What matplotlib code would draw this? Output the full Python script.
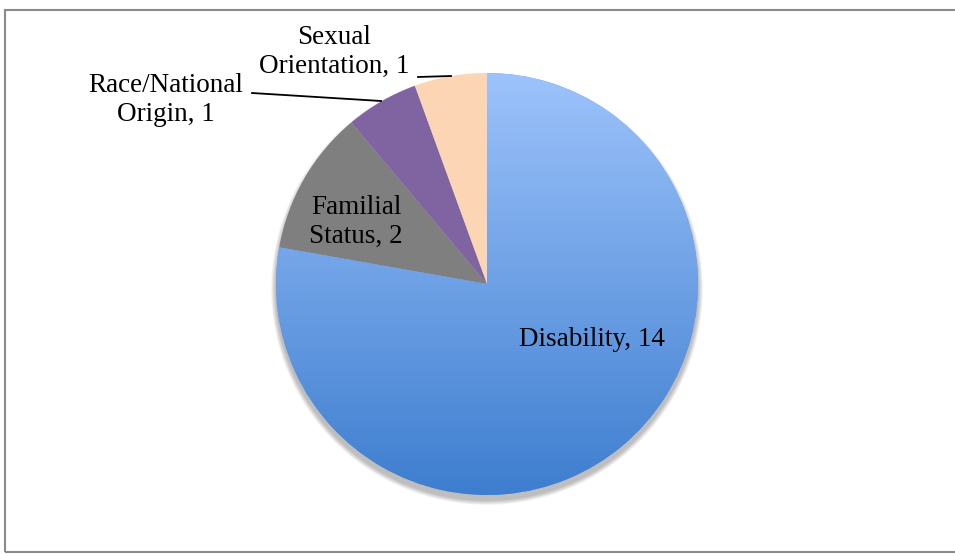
import numpy as np
import matplotlib
matplotlib.use('agg')
import matplotlib.pyplot as plt
from matplotlib.patches import Circle, Rectangle
from matplotlib.lines import Line2D

categories = ['Disability', 'Familial Status', 'Race/National Origin', 'Sexual Orientation']
counts = [14, 2, 1, 1]
label_text = ['Disability, 14', 'Familial\nStatus, 2', 'Race/National\nOrigin, 1', 'Sexual\nOrientation, 1']
colors = ['#6a9be6', '#7f7f7f', '#8064a2', '#fcd5b5']

W, H = 955, 554
plt.rcParams['font.family'] = ['Liberation Serif', 'DejaVu Serif']

fig = plt.figure(figsize=(W / 100, H / 100), dpi=100)
fig.patch.set_facecolor('white')

def fx(px):
    return px / W

def fy(py):
    return 1 - py / H

# chart frame (right edge runs off the canvas)
fig.patches.append(Rectangle((fx(5), fy(552)), 1.2, fy(10) - fy(552),
                             transform=fig.transFigure, fill=False,
                             edgecolor='#8a8a8a', lw=1.5))

cx, cy, r = 487, 284, 211
ax = fig.add_axes([fx(cx - r), fy(cy + r), 2 * r / W, 2 * r / H])
ax.set_xlim(-1, 1)
ax.set_ylim(-1, 1)
ax.set_aspect('equal')
ax.axis('off')

# soft drop shadow, pushed down below the pie
px = 1.0 / r
for k in range(7, 0, -1):
    ax.add_patch(Circle((0, -5 * px), 1 + k * px * 0.7, color='black',
                        alpha=0.04, lw=0, zorder=0, clip_on=False))

wedges, _ = ax.pie(counts, colors=colors, startangle=90, counterclock=False,
                   radius=1, wedgeprops=dict(lw=0), frame=False)
for w in wedges:
    w.set_zorder(2)
ax.set_xlim(-1, 1)
ax.set_ylim(-1, 1)

# vertical gradient on the largest slice
grad = np.linspace(0, 1, 256)[:, None]
top = np.array([157, 195, 251]) / 255
bot = np.array([62, 126, 207]) / 255
img = top[None, None, :] * (1 - grad[..., None]) + bot[None, None, :] * grad[..., None]
img = np.repeat(img, 2, axis=1)
im = ax.imshow(img, extent=[-1, 1, -1, 1], origin='upper', aspect='auto', zorder=3)
im.set_clip_path(wedges[0])

fs = 19.5
ls = 1.22
fig.text(fx(592), fy(340), label_text[0], ha='center', va='center', fontsize=fs)
fig.text(fx(356), fy(222), label_text[1], ha='center', va='center', fontsize=fs,
         linespacing=ls)
fig.text(fx(166), fy(100), label_text[2], ha='center', va='center', fontsize=fs,
         linespacing=ls)
fig.text(fx(334), fy(52), label_text[3], ha='center', va='center', fontsize=fs,
         linespacing=ls)

# leader lines for the outside labels
for (x0, y0), (x1, y1) in [((252, 93), (381, 101)), ((418, 77), (451, 76))]:
    fig.add_artist(Line2D([fx(x0), fx(x1)], [fy(y0), fy(y1)],
                          transform=fig.transFigure, color='black', lw=1.3))

plt.savefig('out.png', dpi=100)
plt.close()
